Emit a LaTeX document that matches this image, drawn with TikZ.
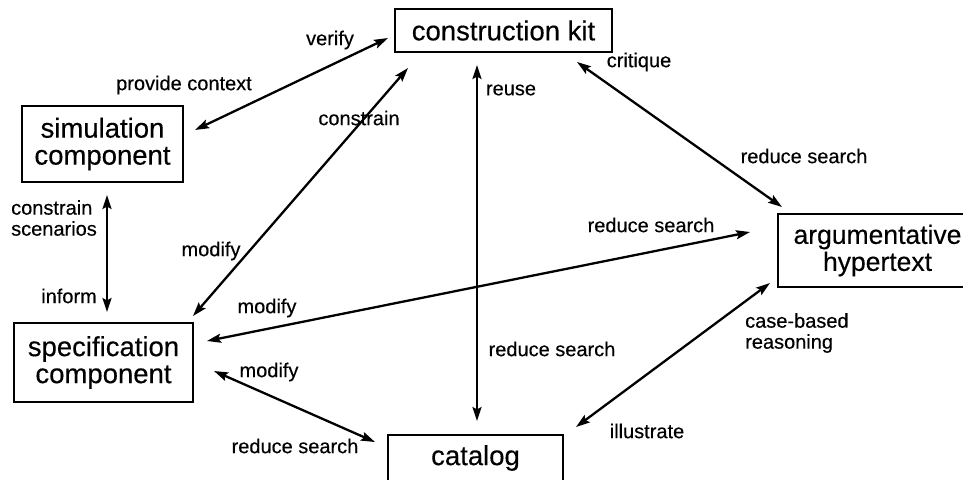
\documentclass[tikz,border=0pt]{standalone}
\usepackage{fontspec}
\setmainfont{Liberation Sans}
\newfontfamily\heavyfont[FakeBold=0.3]{Liberation Sans}
\usetikzlibrary{arrows.meta}
\begin{document}
\begin{tikzpicture}[x=1pt,y=-1pt,
  box/.style={draw,line width=2.8pt,inner sep=0pt,align=center,font=\heavyfont\fontsize{27.5}{27}\selectfont},
  lbl/.style={inner sep=0pt,font=\heavyfont\fontsize{20}{21}\selectfont},
  link/.style={line width=2.3pt,{Stealth[length=14pt,width=9pt,inset=2.5pt]}-{Stealth[length=14pt,width=9pt,inset=2.5pt]}}]
\useasboundingbox (0,0) rectangle (963,479);
\clip (0,0) rectangle (963,479);
\fill[white] (0,0) rectangle (963,479);
% boxes
\node[box,minimum width=217pt,minimum height=43pt] (kit) at (503.5,30.5) {construction kit};
\node[box,minimum width=161pt,minimum height=76pt] (sim) at (102.5,144) {simulation\\component};
\node[box,minimum width=179pt,minimum height=79pt] (spec) at (103.5,362.5) {specification\\component};
\node[box,minimum width=175pt,minimum height=46pt] (cat) at (475.5,458) {catalog};
\node[box,minimum width=199pt,minimum height=73pt,font=\heavyfont\fontsize{26.5}{27}\selectfont] (arg) at (877.5,250.5) {argumentative\\hypertext};
% connector end points
\coordinate (simK) at (195,130);  \coordinate (kitS) at (388,38);
\coordinate (kitP) at (408,68);   \coordinate (specK) at (193,316);
\coordinate (kitC) at (477,65);   \coordinate (catK) at (477,421);
\coordinate (kitA) at (577,62);   \coordinate (argK) at (782,207);
\coordinate (specA) at (207,341); \coordinate (argS) at (750,232);
\coordinate (specC) at (214,371); \coordinate (catS) at (375,442);
\coordinate (catA) at (576,427);  \coordinate (argC) at (770,283);
\coordinate (simS) at (107,195);  \coordinate (specSi) at (107,312);
% connectors
\draw[link] (simK) -- (kitS);
\draw[link] (kitP) -- (specK);
\draw[link] (kitC) -- (catK);
\draw[link] (kitA) -- (argK);
\draw[link] (specA) -- (argS);
\draw[link] (specC) -- (catS);
\draw[link] (catA) -- (argC);
\draw[link] (simS) -- (specSi);
% labels
\node[lbl] (l1) at (330,40) {verify};
\node[lbl] (l2) at (184,85) {provide context};
\node[lbl] (l3) at (359,118) {constrain};
\node[lbl] (l4) at (511,90) {reuse};
\node[lbl] (l5) at (639,62) {critique};
\node[lbl] (l6) at (804,156) {reduce search};
\node[lbl] (l7) at (651,225) {reduce search};
\node[lbl,align=left,anchor=east] (l8) at (97,218) {constrain\\scenarios};
\node[lbl] (l9) at (211,251) {modify};
\node[lbl,anchor=east] (l10) at (97,296) {inform};
\node[lbl] (l11) at (267,308) {modify};
\node[lbl] (l12) at (269,372) {modify};
\node[lbl] (l13) at (295,446) {reduce search};
\node[lbl] (l14) at (552,349) {reduce search};
\node[lbl,align=left,anchor=west] (l15) at (745,333) {case-based\\reasoning};
\node[lbl] (l16) at (647,431) {illustrate};
\end{tikzpicture}
\end{document}
